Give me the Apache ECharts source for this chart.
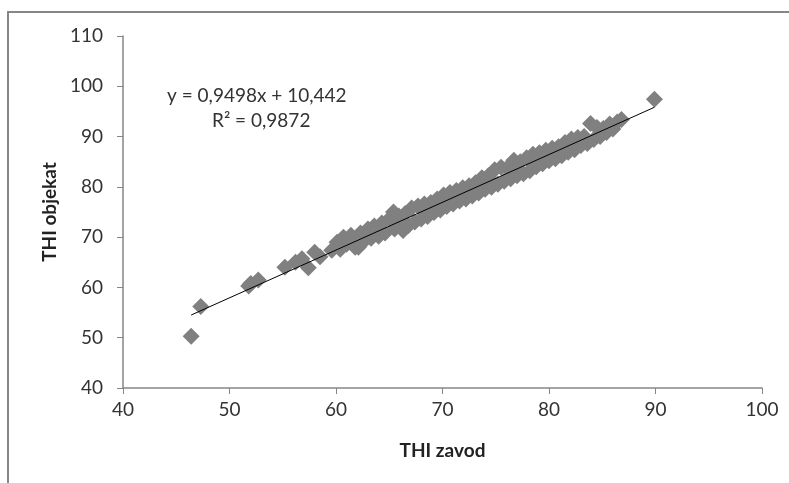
<!DOCTYPE html>
<html>
<head>
<meta charset="utf-8">
<script src="https://cdn.jsdelivr.net/npm/echarts@6/dist/echarts.min.js"></script>
<style>
    html, body { margin: 0; padding: 0; background: #fff; }
    #chart { width: 789px; height: 483px; }
</style>
</head>
<body>
<div id="chart"></div>
<script>
// THI zavod (x) vs THI objekat (y)
var thiZavod = [
    46.4, 47.3, 51.8, 52.0, 52.7, 55.2, 56.2, 56.8, 57.4, 58.0, 58.5, 59.6,
    60.1, 60.4, 60.7, 61.0, 61.4, 61.8, 62.1, 62.3, 62.7, 63.0, 63.3, 63.6,
    64.0, 64.3, 64.6, 65.0, 65.4, 65.5, 65.9, 66.3, 66.5, 66.8, 67.1, 67.4,
    67.7, 68.0, 68.3, 68.6, 68.9, 69.2, 69.5, 69.8, 70.1, 70.4, 70.7, 71.0,
    71.3, 71.6, 71.9, 72.2, 72.5, 72.8, 73.1, 73.4, 73.7, 74.0, 74.3, 74.6,
    74.9, 75.2, 75.5, 75.8, 76.1, 76.4, 76.7, 77.0, 77.3, 77.6, 77.9, 78.2,
    78.5, 78.8, 79.1, 79.4, 79.7, 80.0, 80.3, 80.6, 80.9, 81.2, 81.5, 81.8,
    82.1, 82.4, 82.7, 83.0, 83.3, 83.6, 83.9, 84.2, 84.5, 84.8, 85.1, 85.4,
    85.7, 86.0, 86.4, 86.8, 89.9,
    61.6, 63.8, 66.0, 68.2, 70.3, 72.4, 74.5, 76.6, 78.7, 80.8, 82.9, 85.0
];
var thiObjekat = [
    50.3, 56.2, 60.3, 60.8, 61.5, 64.0, 65.0, 65.7, 63.9, 67.0, 66.1, 67.4,
    69.0, 67.6, 70.0, 68.6, 70.4, 68.0, 68.0, 70.8, 69.4, 71.6, 69.8, 72.2,
    70.2, 72.8, 70.8, 73.6, 75.0, 71.6, 74.2, 71.3, 74.7, 72.3, 75.8, 73.0,
    76.2, 73.6, 76.6, 74.1, 76.9, 74.9, 77.6, 75.4, 78.4, 76.1, 78.9, 76.6,
    79.3, 77.2, 79.8, 77.6, 80.2, 78.2, 80.8, 78.8, 81.8, 79.5, 82.2, 79.9,
    83.4, 80.5, 83.9, 81.1, 83.8, 81.6, 85.3, 82.2, 85.0, 82.6, 85.8, 83.2,
    86.5, 84.0, 86.8, 84.6, 87.3, 85.2, 87.7, 85.6, 88.0, 86.2, 88.8, 86.9,
    89.5, 87.4, 89.8, 88.2, 90.0, 88.6, 92.6, 89.4, 91.8, 90.0, 91.6, 90.8,
    92.5, 91.5, 92.9, 93.4, 97.4,
    69.0, 71.1, 73.2, 75.2, 77.2, 79.2, 81.2, 83.2, 85.2, 87.1, 89.2, 91.2
];
var xTicks = [40, 50, 60, 70, 80, 90, 100];
var yTicks = [40, 50, 60, 70, 80, 90, 100, 110];

// linear trendline from the chart
var slope = 0.9498;
var intercept = 10.442;
var trendFrom = 46.4;
var trendTo = 89.9;

var points = thiZavod.map(function (x, i) { return [x, thiObjekat[i]]; });
var trend = [
    [trendFrom, slope * trendFrom + intercept],
    [trendTo, slope * trendTo + intercept]
];

var font = 'Lato, Open Sans, sans-serif';
var axisGray = '#868686';

var myChart = echarts.init(document.getElementById('chart'));
var option = {
    backgroundColor: '#fff',
    animation: false,
    textStyle: { fontFamily: font },
    grid: { left: 123, right: 27, top: 36, bottom: 95 },
    graphic: [
        {
            type: 'rect',
            shape: { x: 8, y: 12, width: 800, height: 500 },
            style: { fill: 'none', stroke: axisGray, lineWidth: 2 },
            silent: true
        },
        {
            type: 'text',
            left: 167, top: 86,
            style: { text: 'y = 0,9498x + 10,442', font: '19px ' + font, fill: '#333' }
        },
        {
            type: 'text',
            left: 212, top: 111,
            style: { text: 'R² = 0,9872', font: '19px ' + font, fill: '#333' }
        }
    ],
    xAxis: {
        type: 'value',
        min: xTicks[0], max: xTicks[xTicks.length - 1], interval: 10,
        name: 'THI zavod',
        nameLocation: 'middle',
        nameGap: 53,
        nameTextStyle: { fontSize: 19, fontWeight: 'bold', color: '#222' },
        axisLine: { lineStyle: { color: axisGray, width: 1.5 } },
        axisTick: { show: true, length: 6, lineStyle: { color: axisGray } },
        axisLabel: { fontSize: 19, color: '#333', margin: 12 },
        splitLine: { show: false }
    },
    yAxis: {
        type: 'value',
        min: yTicks[0], max: yTicks[yTicks.length - 1], interval: 10,
        name: 'THI objekat',
        nameLocation: 'middle',
        nameGap: 62,
        nameTextStyle: { fontSize: 19, fontWeight: 'bold', color: '#222' },
        axisLine: { show: true, lineStyle: { color: axisGray, width: 1.5 } },
        axisTick: { show: true, length: 6, lineStyle: { color: axisGray } },
        axisLabel: { fontSize: 19, color: '#333', margin: 20 },
        splitLine: { show: false }
    },
    series: [
        {
            name: 'THI',
            type: 'scatter',
            symbol: 'diamond',
            symbolSize: 17,
            itemStyle: { color: '#808080', opacity: 1 },
            data: points,
            z: 2
        },
        {
            name: 'trend',
            type: 'line',
            showSymbol: false,
            symbol: 'none',
            lineStyle: { color: '#000', width: 1 },
            data: trend,
            z: 3
        }
    ]
};
myChart.setOption(option);
</script>
</body>
</html>
